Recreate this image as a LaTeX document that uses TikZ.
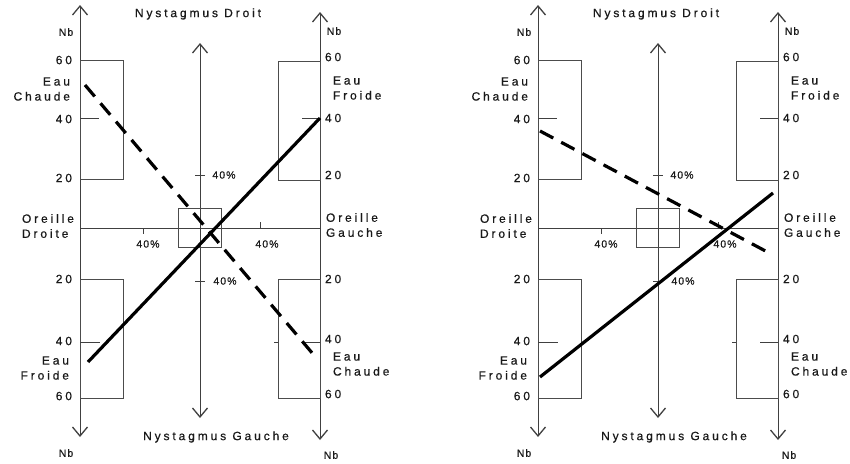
\documentclass[tikz,border=0pt]{standalone}
\usepackage{fontspec}
\setmainfont{Liberation Sans}[LetterSpace=24, FakeBold=0.6]
\usetikzlibrary{arrows.meta}

\begin{document}
\begin{tikzpicture}[x=1pt, y=-1pt,
    every node/.style={inner sep=0pt, outer sep=0pt, text=black!90},
    axis/.style={draw=black!75, line width=0.9pt},
    box/.style={draw=black!70, line width=0.9pt, minimum width=43pt, minimum height=120pt-\pgflinewidth},
    midbox/.style={box, minimum width=44pt-\pgflinewidth, minimum height=40pt-\pgflinewidth},
    tick/.style={draw=black!75, line width=0.9pt},
    curve/.style={draw=black, line width=3.2pt},
    dashcurve/.style={curve, dash pattern=on 15pt off 9pt},
    lbl/.style={font=\fontsize{12}{15}\selectfont},
    pct/.style={font=\fontsize{10.5}{12}\selectfont\addfontfeature{LetterSpace=10}},
    nb/.style={font=\fontsize{10.5}{12}\selectfont\addfontfeature{LetterSpace=10}},
    >={Straight Barb[length=9pt, width=15pt, line width=1.3pt]}]
    \useasboundingbox (0,0) rectangle (850,463);

    \foreach \p/\ox in {L/0, R/458} {
        % Graphic area
        \coordinate (\p-lt) at (\ox+80,5);
        \coordinate (\p-lb) at (\ox+80,437);
        \coordinate (\p-rt) at (\ox+320,12);
        \coordinate (\p-rb) at (\ox+320,440);
        \coordinate (\p-ct) at (\ox+200,43);
        \coordinate (\p-cb) at (\ox+200,418);
        \coordinate (\p-hl) at (\ox+80,228);
        \coordinate (\p-hr) at (\ox+320,228);
        \draw[axis, <->] (\p-lt) -- (\p-lb);
        \draw[axis, <->] (\p-rt) -- (\p-rb);
        \draw[axis, <->] (\p-ct) -- (\p-cb);
        \draw[axis] (\p-hl) -- (\p-hr);

        \node[box] (\p-bul) at (\ox+101.5,120) {};
        \node[box] (\p-bll) at (\ox+101.5,339) {};
        \node[box, minimum width=42pt] (\p-bur) at (\ox+299,120.5) {};
        \node[box, minimum width=42pt] (\p-blr) at (\ox+299,339) {};
        \node[midbox] (\p-bc) at (\ox+200,228) {};

        \draw[tick] (\ox+80,118) -- (\ox+99,118);
        \draw[tick] (\ox+80,342) -- (\ox+100,342);
        \draw[tick] (\ox+302,118) -- (\ox+320,118);
        \draw[tick] (\ox+302,342) -- (\ox+320,342);
        \draw[tick] (\ox+274,342) -- (\ox+278,342);
        \draw[tick] (\ox+195,175) -- (\ox+205,175);
        \draw[tick] (\ox+195,281) -- (\ox+205,281);
        \draw[tick] (\ox+143,228) -- (\ox+143,234);
        \draw[tick] (\ox+260,222) -- (\ox+260,228);

        % Labels
        \node[lbl] (\p-nd) at (\ox+198,14) {Nystagmus Droit};
        \node[lbl] (\p-ng) at (\ox+216,437) {Nystagmus Gauche};
        \node[nb] (\p-nb1) at (\ox+66,32) {Nb};
        \node[nb] (\p-nb2) at (\ox+334,31) {Nb};
        \node[nb] (\p-nb3) at (\ox+66,453) {Nb};
        \node[nb] (\p-nb4) at (\ox+331,455) {Nb};
        \node[lbl, anchor=east] (\p-l60a) at (\ox+72,60) {60};
        \node[lbl, anchor=east] (\p-l40a) at (\ox+72,119) {40};
        \node[lbl, anchor=east] (\p-l20a) at (\ox+72,178) {20};
        \node[lbl, anchor=east] (\p-l20b) at (\ox+72,279) {20};
        \node[lbl, anchor=east] (\p-l40b) at (\ox+72,341) {40};
        \node[lbl, anchor=east] (\p-l60b) at (\ox+72,396) {60};
        \node[lbl, anchor=west] (\p-r60a) at (\ox+325,57) {60};
        \node[lbl, anchor=west] (\p-r40a) at (\ox+325,118) {40};
        \node[lbl, anchor=west] (\p-r20a) at (\ox+325,175) {20};
        \node[lbl, anchor=west] (\p-r20b) at (\ox+325,279) {20};
        \node[lbl, anchor=west] (\p-r40b) at (\ox+325,339) {40};
        \node[lbl, anchor=west] (\p-r60b) at (\ox+325,394) {60};
        \node[pct] (\p-p1) at (\ox+224,175) {40\%};
        \node[pct] (\p-p2) at (\ox+225,281) {40\%};
        \node[pct] (\p-p3) at (\ox+148,244) {40\%};
        \node[pct] (\p-p4) at (\ox+267,244) {40\%};
        \node[lbl, anchor=east, align=right] (\p-ec1) at (\ox+70,89) {Eau\\Chaude};
        \node[lbl, anchor=west, align=left] (\p-ef1) at (\ox+333,88) {Eau\\Froide};
        \node[lbl, anchor=west, align=left] (\p-od) at (\ox+22,226) {Oreille\\Droite};
        \node[lbl, anchor=west, align=left] (\p-og) at (\ox+326,225) {Oreille\\Gauche};
        \node[lbl, anchor=east, align=right] (\p-ef2) at (\ox+69,368) {Eau\\Froide};
        \node[lbl, anchor=west, align=left] (\p-ec2) at (\ox+333,364) {Eau\\Chaude};
    }

    % Results
    \coordinate (L-sol-a) at (88,362);
    \coordinate (L-sol-b) at (320,118);
    \coordinate (L-dash-a) at (85,85);
    \coordinate (L-dash-b) at (313,354);
    \coordinate (R-sol-a) at (540,377);
    \coordinate (R-sol-b) at (773,193);
    \coordinate (R-dash-a) at (540,131);
    \coordinate (R-dash-b) at (773,255);
    \draw[curve] (L-sol-a) -- (L-sol-b);
    \draw[dashcurve] (L-dash-a) -- (L-dash-b);
    \draw[curve] (R-sol-a) -- (R-sol-b);
    \draw[dashcurve] (R-dash-a) -- (R-dash-b);

\end{tikzpicture}
\end{document}
